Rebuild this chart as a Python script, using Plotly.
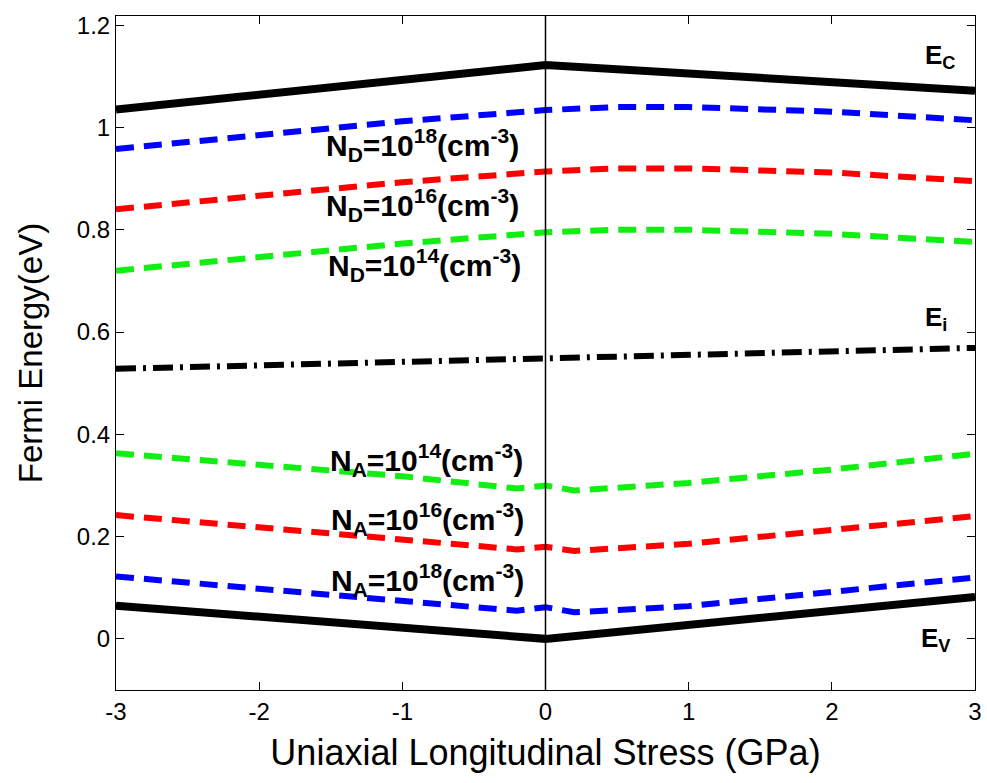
import plotly.graph_objects as go

# Uniaxial longitudinal stress (GPa)
stress_band = [-3, 0, 3]
ec = [1.035, 1.122, 1.072]
ev = [0.065, 0.0, 0.082]
ei = [0.528, 0.549, 0.569]

stress_d = [-3, -2, -1, 0, 0.5, 1, 2, 3]
nd18 = [0.958, 0.985, 1.012, 1.034, 1.040, 1.040, 1.031, 1.014]
nd16 = [0.840, 0.867, 0.893, 0.914, 0.920, 0.920, 0.912, 0.895]
nd14 = [0.720, 0.747, 0.773, 0.795, 0.800, 0.800, 0.792, 0.776]

stress_a = [-3, -2, -1, -0.2, 0, 0.2, 1, 2, 3]
na14 = [0.363, 0.340, 0.318, 0.294, 0.300, 0.290, 0.305, 0.331, 0.362]
na16 = [0.242, 0.218, 0.195, 0.175, 0.180, 0.172, 0.186, 0.212, 0.240]
na18 = [0.122, 0.098, 0.075, 0.055, 0.062, 0.052, 0.064, 0.091, 0.120]

x_ticks = [-3, -2, -1, 0, 1, 2, 3]
x_ticktext = ["-3", "-2", "-1", "0", "1", "2", "3"]
y_ticks = [0, 0.2, 0.4, 0.6, 0.8, 1, 1.2]
y_ticktext = ["0", "0.2", "0.4", "0.6", "0.8", "1", "1.2"]

BLUE, RED, GREEN = "#0000ff", "#ff0000", "#11ee11"
DASH = "18px,10px"
FONT = "Arial, Liberation Sans, Helvetica, sans-serif"

fig = go.Figure()

def add(x, y, color, width, dash="solid"):
    fig.add_trace(go.Scatter(x=x, y=y, mode="lines", showlegend=False,
                             line=dict(color=color, width=width, dash=dash)))

add(stress_band, ec, "black", 8)
add(stress_d, nd18, BLUE, 6, DASH)
add(stress_d, nd16, RED, 6, DASH)
add(stress_d, nd14, GREEN, 6, DASH)
add(stress_band, ei, "black", 6, "20px,7px,3px,7px")
add(stress_a, na14, GREEN, 6, DASH)
add(stress_a, na16, RED, 6, DASH)
add(stress_a, na18, BLUE, 6, DASH)
add(stress_band, ev, "black", 8)

# zero-stress reference line
fig.add_shape(type="line", xref="x", yref="paper", x0=0, x1=0, y0=0, y1=1,
              line=dict(color="black", width=1.5))

doping_labels = [
    (-1.55, 0.966, "N<sub>D</sub>=10<sup>18</sup>(cm<sup>-3</sup>)"),
    (-1.55, 0.848, "N<sub>D</sub>=10<sup>16</sup>(cm<sup>-3</sup>)"),
    (-1.53, 0.732, "N<sub>D</sub>=10<sup>14</sup>(cm<sup>-3</sup>)"),
    (-1.52, 0.350, "N<sub>A</sub>=10<sup>14</sup>(cm<sup>-3</sup>)"),
    (-1.51, 0.234, "N<sub>A</sub>=10<sup>16</sup>(cm<sup>-3</sup>)"),
    (-1.51, 0.116, "N<sub>A</sub>=10<sup>18</sup>(cm<sup>-3</sup>)"),
]
for lx, ly, txt in doping_labels:
    fig.add_annotation(x=lx, y=ly, text="<b>" + txt + "</b>", showarrow=False,
                       xanchor="left", yanchor="middle",
                       font=dict(family=FONT, size=30, color="black"))

band_labels = [
    (2.635, 1.138, "E<sub>C</sub>"),
    (2.635, 0.627, "E<sub>i</sub>"),
    (2.61, -0.002, "E<sub>V</sub>"),
]
for lx, ly, txt in band_labels:
    fig.add_annotation(x=lx, y=ly, text="<b>" + txt + "</b>", showarrow=False,
                       xanchor="left", yanchor="middle",
                       font=dict(family=FONT, size=26, color="black"))

axis_common = dict(showgrid=False, zeroline=False, showline=True, mirror="ticks",
                   linecolor="black", linewidth=1, ticks="inside", ticklen=8,
                   tickcolor="black", automargin=False,
                   tickfont=dict(family=FONT, size=24, color="black"))

fig.update_layout(
    width=987, height=783,
    margin=dict(l=116, r=12, t=16, b=93),
    paper_bgcolor="white", plot_bgcolor="white",
    xaxis=dict(range=[-3, 3], tickvals=x_ticks, ticktext=x_ticktext,
               title=dict(text="Uniaxial Longitudinal Stress (GPa)",
                          font=dict(family=FONT, size=36, color="black"), standoff=16),
               **axis_common),
    yaxis=dict(range=[-0.1, 1.218], tickvals=y_ticks, ticktext=y_ticktext,
               title=dict(text="Fermi Energy(eV)",
                          font=dict(family=FONT, size=33, color="black"), standoff=24),
               **axis_common),
)

fig.write_html("out.html")
